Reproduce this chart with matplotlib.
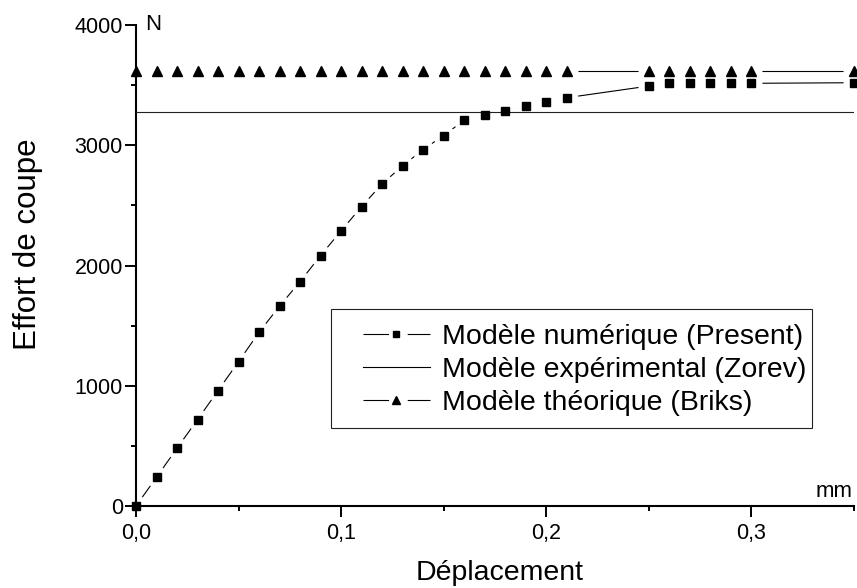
import numpy as np
import matplotlib
matplotlib.use("Agg")
import matplotlib.pyplot as plt
from matplotlib.lines import Line2D
from matplotlib.patches import Rectangle
from matplotlib.ticker import MultipleLocator, FuncFormatter

plt.rcParams['font.family'] = ['Liberation Sans', 'DejaVu Sans']

# Modèle numérique (Present)
x_num = [0.00, 0.01, 0.02, 0.03, 0.04, 0.05, 0.06, 0.07, 0.08, 0.09, 0.10,
         0.11, 0.12, 0.13, 0.14, 0.15, 0.16, 0.17, 0.18, 0.19, 0.20, 0.21,
         0.25, 0.26, 0.27, 0.28, 0.29, 0.30, 0.35]
y_num = [0, 239, 480, 718, 959, 1200, 1444, 1662, 1865, 2082, 2287,
         2489, 2678, 2828, 2964, 3080, 3207, 3249, 3282, 3329, 3362, 3395,
         3492, 3515, 3515, 3515, 3515, 3515, 3520]

# Modèle théorique (Briks)
x_th = x_num
y_th = [3620] * len(x_th)

# Modèle expérimental (Zorev)
x_exp = [0.0, 0.35]
y_exp = [3280, 3280]

labels = ["Modèle numérique (Present)",
          "Modèle expérimental (Zorev)",
          "Modèle théorique (Briks)"]

fig = plt.figure(figsize=(8.57, 5.88), dpi=100)
ax = fig.add_axes([136 / 857, 1 - 506 / 588, 717.5 / 857, 481 / 588])

lw = 0.8
# connecting lines, interrupted around each symbol by a white mask
ax.plot(x_num, y_num, color='k', lw=lw, zorder=2.0)
ax.plot(x_th, y_th, color='k', lw=lw, zorder=2.0)
ax.plot(x_num, y_num, ls='none', marker='o', ms=15.8, mfc='white', mec='none', zorder=2.2)
ax.plot(x_th, y_th, ls='none', marker='o', ms=15.8, mfc='white', mec='none', zorder=2.2)
ax.plot(x_exp, y_exp, color='#222222', lw=lw, zorder=3)
ax.plot(x_num, y_num, ls='none', marker='s', ms=5.8, color='k', zorder=4, clip_on=False)
ax.plot(x_th, y_th, ls='none', marker='^', ms=6.6, color='k', zorder=4, clip_on=False)

ax.set_xlim(0, 0.35)
ax.set_ylim(0, 4000)
for s in ['top', 'right']:
    ax.spines[s].set_visible(False)
for s in ['left', 'bottom']:
    ax.spines[s].set_linewidth(1.5)

ax.xaxis.set_major_locator(MultipleLocator(0.1))
ax.xaxis.set_minor_locator(MultipleLocator(0.05))
ax.yaxis.set_major_locator(MultipleLocator(1000))
ax.yaxis.set_minor_locator(MultipleLocator(500))
ax.xaxis.set_major_formatter(FuncFormatter(lambda v, p: f"{v:.1f}".replace('.', ',')))
ax.yaxis.set_major_formatter(FuncFormatter(lambda v, p: f"{v:.0f}"))
ax.tick_params(which='major', direction='out', length=7.7, width=1.4, labelsize=15.5)
ax.tick_params(which='minor', direction='out', length=3.5, width=1.4)
ax.tick_params(axis='x', which='major', pad=4.3)
ax.tick_params(axis='y', which='major', pad=1.7)

ax.set_xlabel("Déplacement", fontsize=20.5, va='baseline')
ax.xaxis.set_label_coords(0.507, -0.1538)
ax.set_ylabel("Effort de coupe", fontsize=22.5, va='center')
ax.yaxis.set_label_coords(-0.1505, 0.545)

ax.text(0.0125, 0.9896, "N", transform=ax.transAxes, fontsize=16, ha='left', va='baseline')
ax.text(0.998, 0.0187, "mm", transform=ax.transAxes, fontsize=16, ha='right', va='baseline')

# legend
fs = 20.5
on, off = 23.0, 16.8
handles = [
    Line2D([], [], color='k', lw=lw, ls=(0, (on, off)), marker='s', ms=4.8, mfc='k', mec='k'),
    Line2D([], [], color='k', lw=lw),
    Line2D([], [], color='k', lw=lw, ls=(0, (on, off)), marker='^', ms=5.2, mfc='k', mec='k'),
]
fig.legend(handles, labels, loc='center left', bbox_to_anchor=(362.7 / 857, 1 - 370 / 588),
           frameon=False, fontsize=fs, handlelength=67.3 / (fs / 0.72),
           handletextpad=0.42, labelspacing=0.24, borderpad=0, borderaxespad=0, numpoints=1)
fig.add_artist(Rectangle((330.7 / 857, 1 - 428 / 588), (812 - 330.7) / 857, (428 - 309.3) / 588,
                         transform=fig.transFigure, fill=False, ec='#222222', lw=0.8))

fig.savefig("out.png", dpi=100)
